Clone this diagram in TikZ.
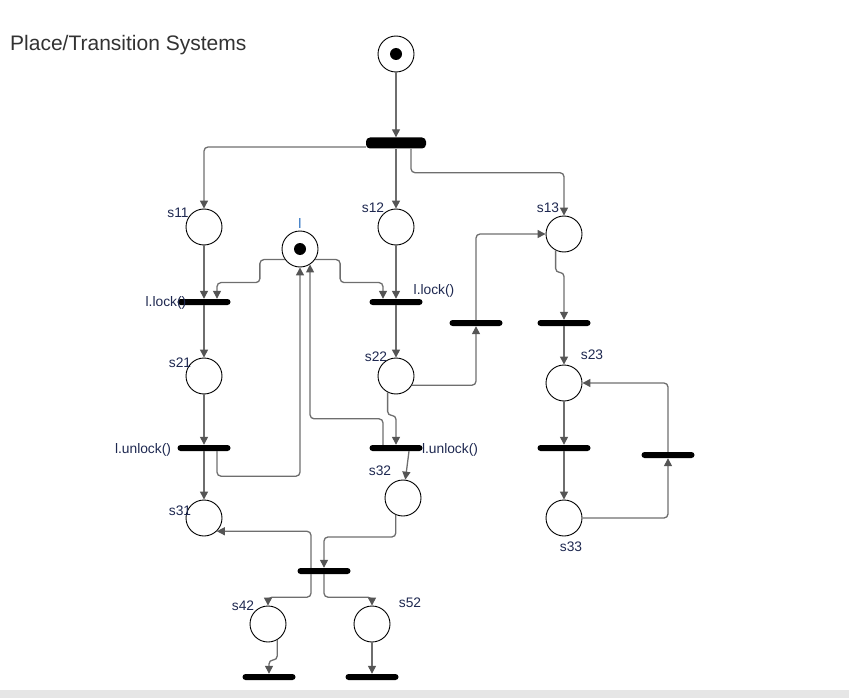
\documentclass[tikz,border=0pt]{standalone}
\usepackage{fontspec}
\setmainfont{Liberation Sans}
\usepackage{xcolor}
\definecolor{ArcGray}{RGB}{110, 110, 110}
\definecolor{TipGray}{RGB}{85, 85, 85}
\definecolor{LabelInk}{RGB}{30, 40, 80}
\definecolor{LockInk}{RGB}{40, 110, 190}
\definecolor{TitleInk}{RGB}{50, 50, 50}
\definecolor{BandGray}{RGB}{230, 230, 230}
\usetikzlibrary{arrows.meta, positioning}

\begin{document}
\begin{tikzpicture}[
        x=1pt, y=-1pt,
        place/.style={circle, draw=black, line width=0.9pt, fill=white, minimum size=36pt, inner sep=0pt},
        token/.style={place, path picture={\fill[black] (path picture bounding box.center) circle (6pt);}},
        bar/.style={rectangle, fill=black, rounded corners=3pt, minimum width=53pt, minimum height=6pt, inner sep=0pt},
        bigbar/.style={bar, minimum width=60pt, minimum height=11pt, rounded corners=4pt},
        arc/.style={draw=ArcGray, line width=1.3pt, rounded corners=4pt, -{Triangle[length=8pt, width=8pt, fill=TipGray, color=TipGray]}},
        lbl/.style={font=\fontsize{13.8}{16}\selectfont, text=LabelInk, inner sep=1pt, yshift=-1.5pt}
    ]
        \useasboundingbox (0,0) rectangle (849,698);
        \fill[BandGray] (0,690) rectangle (849,698);
        \node[anchor=west, font=\fontsize{21}{24}\selectfont, text=TitleInk, inner sep=0pt] (title) at (10,45) {Place/Transition Systems};

        % Places
        \node[token] (p0) at (396,54) {};
        \node[place] (s11) at (204,227) {};
        \node[place] (s12) at (396,227) {};
        \node[place] (s13) at (564,234) {};
        \node[token] (l) at (300,249) {};
        \node[place] (s21) at (204,376) {};
        \node[place] (s22) at (396,376) {};
        \node[place] (s23) at (564,383) {};
        \node[place] (s31) at (204,518) {};
        \node[place] (s32) at (403,498) {};
        \node[place] (s33) at (564,518) {};
        \node[place] (s42) at (268,624) {};
        \node[place] (s52) at (372,624) {};

        % Transitions
        \node[bigbar] (t0) at (396,143) {};
        \node[bar] (t1) at (204,302) {};
        \node[bar] (t2) at (396,302) {};
        \node[bar] (tm) at (476,323) {};
        \node[bar] (t3) at (564,323) {};
        \node[bar] (t4) at (204,448) {};
        \node[bar] (t5) at (396,448) {};
        \node[bar] (t6) at (564,448) {};
        \node[bar] (t7) at (668,455) {};
        \node[bar] (t8) at (324,571) {};
        \node[bar] (t9) at (269,677) {};
        \node[bar] (t10) at (372,677) {};

        % Labels
        \node[lbl] at (178,211) {s11};
        \node[lbl] at (373,206) {s12};
        \node[lbl] at (548,206) {s13};
        \node[lbl, text=LockInk] at (300,222) {l};
        \node[lbl] at (166,301) {l.lock()};
        \node[lbl] at (434,289) {l.lock()};
        \node[lbl] at (180,361) {s21};
        \node[lbl] at (376,355) {s22};
        \node[lbl] at (592,353) {s23};
        \node[lbl] at (143,448) {l.unlock()};
        \node[lbl] at (450,448) {l.unlock()};
        \node[lbl] at (380,469) {s32};
        \node[lbl] at (180,509) {s31};
        \node[lbl] at (571,545) {s33};
        \node[lbl] at (243,604) {s42};
        \node[lbl] at (410,601) {s52};

        % Arcs
        \draw[arc] (p0) -- (t0);
        \draw[arc] ([yshift=-4pt]t0.west) -| (s11);
        \draw[arc] (t0) -- (s12);
        \draw[arc] ([xshift=15pt]t0.south) -- ++(0,24) -| (s13);
        \draw[arc] (s11) -- (t1);
        \draw[arc] (l.215) -- ++(-25,0) -- ++(0,23) -| ([xshift=13pt]t1.north);
        \draw[arc] (l.325) -- ++(25,0) -- ++(0,23) -| ([xshift=-13pt]t2.north);
        \draw[arc] (s12) -- (t2);
        \draw[arc] (t2) -- (s22);
        \draw[arc] (s22.330) -| (tm);
        \draw[arc] (tm.north) |- (s13.west);
        \draw[arc] (s13.243) -- ++(0,22) -| (t3);
        \draw[arc] (t3) -- (s23);
        \draw[arc] (s23) -- (t6);
        \draw[arc] (t6) -- (s33);
        \draw[arc] (s33) -| (t7);
        \draw[arc] (t7) |- (s23);
        \draw[arc] (t1) -- (s21);
        \draw[arc] (s21) -- (t4);
        \draw[arc] (t4) -- (s31);
        \draw[arc] ([xshift=13pt]t4.south) -- ++(0,25) -| (l.south);
        \draw[arc] ([xshift=-13pt]t5.north) -- ++(0,-26) -| (l.303);
        \draw[arc] (s22.243) -- ++(0,23) -| (t5);
        \draw[arc] ([xshift=13pt]t5.south) -- (s32);
        \draw[arc] (s32.247) -- ++(0,22) -| (t8);
        \draw[arc] ([xshift=-13pt]t8.north) |- (s31.314);
        \draw[arc] ([xshift=-13pt]t8.south) -- ++(0,23) -| (s42);
        \draw[arc] (t8.south) -- ++(0,23) -| (s52);
        \draw[arc] (s42.300) -- ++(0,20) -| (t9);
        \draw[arc] (s52) -- (t10);

\end{tikzpicture}
\end{document}
